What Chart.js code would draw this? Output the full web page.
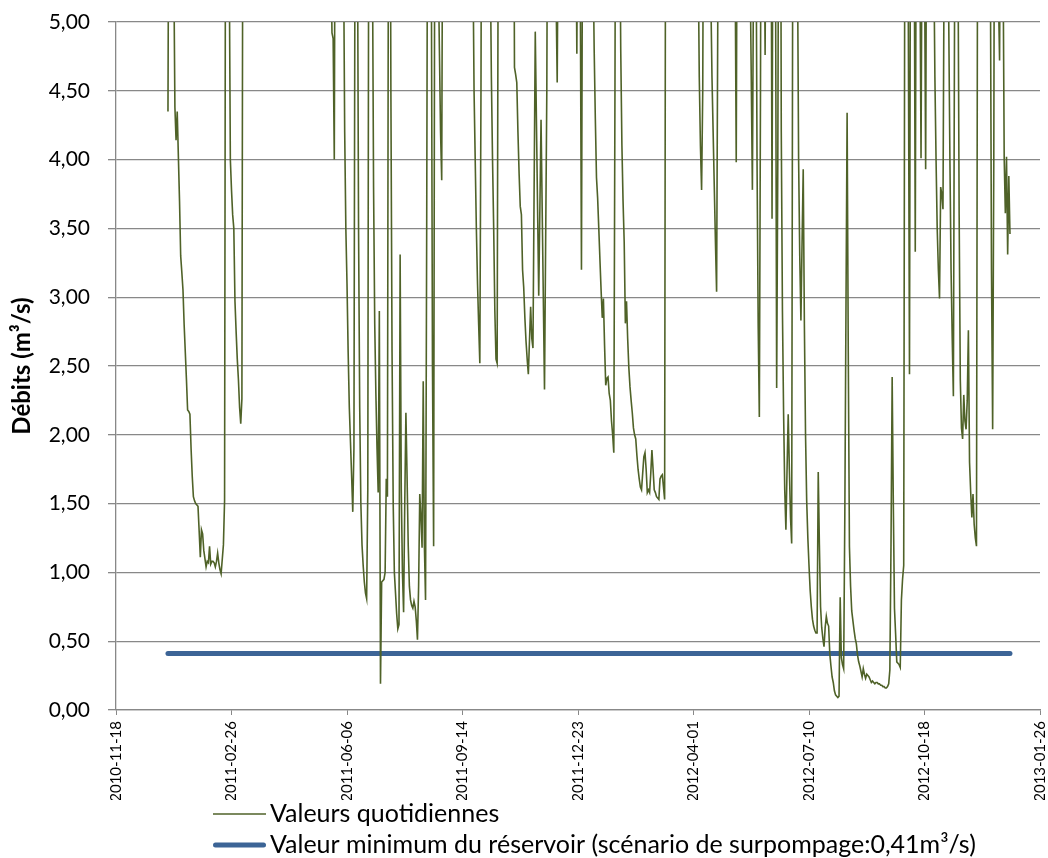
<!DOCTYPE html>
<html>
<head>
<meta charset="utf-8">
<script src="https://cdn.jsdelivr.net/npm/chart.js@4/dist/chart.umd.min.js"></script>
<style>
  body { margin: 0; background: #fff; }
  #wrap { width: 1048px; height: 858px; }
</style>
</head>
<body>
<div id="wrap"><canvas id="debits" width="1048" height="858"></canvas></div>
<script>
// jours comptés depuis le 2010-11-18 (origine de l'axe des x)
const startDate = '2010-11-18';
const xMaxDays = 800;
const xStepDays = 100;
const yMax = 5;
const yStep = 0.5;

const seriesLabels = [
    'Valeurs quotidiennes',
    'Valeur minimum du réservoir (scénario de surpompage:0,41m³/s)'
];
const reservoirMin = 0.41;

// débits journaliers (m3/s), >5 = hors cadre
const dayOffsets = [
    45, 46, 49, 51, 52, 53, 55, 56, 57, 58, 59, 60, 61, 62, 63, 64, 65, 66, 67, 68,
    69, 71, 72, 73, 74, 75, 76, 77, 78, 79, 80, 81, 82, 83, 84, 85, 86, 87, 88, 89,
    90, 91, 93, 94, 95,
    96, 97, 98, 99, 100, 101, 102, 103, 104, 105, 106, 107, 108, 109, 110, 140, 170,
    186, 187, 188, 189, 190,
    196, 197, 198, 199, 200, 201, 202, 203, 204, 205, 206, 207,
    208, 209, 210, 211, 212, 213, 214, 215, 216, 217, 218, 219,
    221, 222, 223, 224, 225, 226, 227, 228, 229, 230, 231, 232, 233, 234, 235, 236,
    237, 238, 239, 240, 241, 242, 243, 244, 245, 246, 247, 248, 249, 250, 251, 252, 253,
    254, 255, 256, 257, 258, 259, 260, 261, 262, 263, 264, 265, 266, 267, 268, 269, 270,
    272, 273, 274, 275, 276, 277, 278, 280, 281, 282, 283, 295,
    308, 309, 310, 311, 312, 313, 314, 315, 316, 317,
    323, 324, 325, 326, 327, 328, 329, 330, 331,
    344, 345, 346, 347, 348, 349, 350, 351, 352, 353, 354, 355, 356, 357, 359, 360, 361,
    363, 366, 368, 371, 373, 374,
    380, 381, 382, 383, 390,
    398, 399, 400, 401, 402, 403, 404,
    412, 413, 414, 415, 416, 417, 418, 419, 420, 421, 422, 423, 424, 425, 426, 427, 428,
    429, 430, 431, 432, 433,
    434, 436, 437, 438, 439, 440, 441, 442, 443, 444, 445, 446, 447, 448, 449, 450,
    451, 452, 453, 454, 455, 456, 457, 458, 459, 460, 461, 462, 463, 464, 465, 466,
    467, 468, 469, 470, 471, 472, 473, 474, 475, 476,
    490, 503, 504, 505, 506, 507, 508, 509,
    513, 514, 515, 516, 517, 518, 519, 520, 521, 522,
    535, 536, 537, 538,
    548, 549, 550, 551, 552, 553,
    554, 555, 556, 557, 558, 559,
    561, 562, 563, 567, 568, 569, 571, 572, 573, 574,
    575, 576, 577, 578, 579, 580, 581, 582, 583, 584, 585, 586,
    589, 590, 591, 592, 593, 594, 595, 596, 597, 598, 599, 600, 601, 602, 603, 604,
    605, 606, 607, 608, 609, 610, 611, 612, 613, 614, 615, 616, 617, 618, 619, 620,
    621, 622, 623, 624, 625, 626, 627, 628, 629, 630, 631, 632, 633, 634, 635, 636,
    637, 638, 639, 640, 641, 642, 643, 644, 645, 646, 647, 648, 649, 650, 651, 652,
    653, 654, 655, 656, 657, 658, 659, 660, 661, 662, 663, 664, 665, 666, 667, 668,
    669, 670, 671, 672, 673, 674, 675, 676, 677, 678, 679, 680, 681, 682, 683,
    685, 686, 687, 688, 691, 692, 693, 696, 697, 698, 700, 701, 702,
    707, 708, 709, 710, 711, 712, 713, 714, 715, 716, 717, 718,
    720, 721, 722, 723, 724, 725, 726, 727,
    728, 729, 730, 731, 732, 733, 734, 735, 736, 737, 738, 739, 740, 741, 742, 743,
    744, 745, 746,
    756, 757, 758, 759, 760, 761,
    763, 764, 765, 766,
    767, 768, 769, 770, 771, 772, 773, 774
];
const dailyFlow = [
    4.35, 7.0, 6.5, 4.38, 4.14, 4.35, 3.70, 3.30, 3.18, 3.05, 2.80, 2.60, 2.40, 2.18, 2.17, 2.15, 1.90, 1.70, 1.55, 1.52,
    1.50, 1.48, 1.30, 1.11, 1.31, 1.28, 1.16, 1.10, 1.04, 1.08, 1.07, 1.19, 1.06, 1.08, 1.08, 1.07, 1.04, 1.08, 1.14, 1.07,
    1.02, 0.99, 1.20, 1.52, 7.0,
    8.0, 7.0, 5.5, 4.00, 3.78, 3.60, 3.50, 2.97, 2.75, 2.55, 2.40, 2.20, 2.08, 2.26, 7.0, 9.0, 8.5,
    5.5, 4.92, 4.88, 4.00, 7.0,
    7.0, 5.5, 4.2, 3.50, 3.10, 2.60, 2.20, 1.95, 1.70, 1.44, 1.90, 6.0,
    9.0, 5.8, 3.5, 2.2, 1.50, 1.20, 1.05, 0.93, 0.85, 0.81, 1.6, 7.0,
    8.0, 5.5, 3.80, 2.81, 2.30, 1.90, 1.58, 2.90, 0.19, 0.93, 0.94, 0.95, 1.00, 1.68, 1.55, 6.5,
    7.5, 4.5, 2.6, 1.5, 1.0, 0.85, 0.70, 0.59, 0.62, 3.31, 1.60, 1.00, 0.71, 1.50, 2.16, 1.70, 1.20,
    0.90, 0.80, 0.76, 0.74, 0.79, 0.75, 0.65, 0.51, 0.90, 1.57, 1.40, 1.18, 2.39, 1.20, 0.80, 3.5, 7.0,
    8.0, 5.5, 2.5, 1.19, 6.0, 8.0, 6.0, 4.8, 4.2, 3.85, 6.5, 9.0,
    8.0, 5.5, 4.5, 4.0, 3.50, 3.10, 2.80, 2.52, 4.5, 8.0,
    8.0, 5.5, 4.6, 4.0, 3.5, 2.9, 2.55, 2.52, 6.0,
    7.0, 4.67, 4.62, 4.56, 4.20, 3.90, 3.66, 3.60, 3.20, 3.07, 2.85, 2.68, 2.55, 2.44, 2.93, 2.70, 2.63,
    4.93, 3.01, 4.29, 2.33, 4.5, 7.0,
    6.0, 5.2, 4.56, 6.0, 8.0,
    6.0, 4.77, 6.5, 7.0, 5.2, 3.20, 6.0,
    7.0, 5.5, 4.8, 4.3, 3.87, 3.72, 3.50, 3.27, 3.05, 2.85, 2.99, 2.65, 2.36, 2.41, 2.42, 2.30, 2.25,
    2.10, 2.00, 1.87, 4.5, 8.0,
    9.0, 6.0, 4.8, 4.11, 3.70, 3.40, 2.81, 2.97, 2.70, 2.49, 2.35, 2.25, 2.16, 2.05, 2.00, 1.97,
    1.85, 1.75, 1.68, 1.62, 1.60, 1.72, 1.84, 1.87, 1.75, 1.58, 1.60, 1.58, 1.72, 1.89, 1.75, 1.60,
    1.58, 1.55, 1.54, 1.53, 1.68, 1.70, 1.71, 1.62, 1.53, 7.0,
    10.0, 8.0, 5.5, 4.6, 4.1, 3.78, 4.5, 7.0,
    8.0, 6.0, 5.2, 4.6, 4.2, 3.8, 3.4, 3.04, 5.0, 8.0,
    7.0, 5.5, 3.98, 6.5,
    7.0, 5.4, 4.6, 3.78, 5.5, 8.0,
    6.0, 4.0, 2.8, 2.13, 4.5, 8.0,
    6.0, 4.76, 6.5, 6.5, 3.57, 7.0, 5.5, 2.34, 4.0, 7.0,
    8.0, 4.2, 2.9, 2.16, 1.60, 1.31, 1.75, 2.15, 1.75, 1.40, 1.21, 6.0,
    8.0, 5.5, 4.0, 3.3, 2.83, 3.40, 3.93, 2.8, 2.0, 1.52, 1.25, 1.05, 0.87, 0.75, 0.66, 0.61,
    0.58, 0.56, 0.56, 1.73, 1.20, 0.75, 0.60, 0.52, 0.46, 0.60, 0.68, 0.63, 0.61, 0.41, 0.32, 0.24,
    0.20, 0.14, 0.11, 0.10, 0.09, 0.10, 0.82, 0.38, 0.33, 0.30, 1.40, 2.90, 4.34, 2.60, 1.19, 0.90,
    0.72, 0.65, 0.58, 0.52, 0.48, 0.40, 0.35, 0.32, 0.28, 0.24, 0.30, 0.26, 0.23, 0.26, 0.25, 0.24,
    0.22, 0.20, 0.21, 0.20, 0.19, 0.20, 0.20, 0.19, 0.19, 0.18, 0.18, 0.17, 0.17, 0.16, 0.16, 0.17,
    0.19, 0.29, 1.20, 2.42, 1.50, 0.74, 0.55, 0.35, 0.34, 0.33, 0.31, 0.80, 0.95, 1.05, 6.0,
    7.0, 5.0, 2.44, 6.5, 6.0, 3.33, 6.5, 5.5, 4.01, 6.0, 5.5, 3.93, 6.5,
    7.0, 5.5, 4.6, 4.0, 3.5, 3.20, 2.99, 3.80, 3.75, 3.64, 5.5, 8.0,
    6.5, 5.0, 4.0, 3.2, 2.7, 2.28, 5.0, 8.0,
    7.0, 5.5, 3.6, 2.40, 2.05, 1.97, 2.29, 2.10, 2.04, 2.25, 2.76, 1.80, 1.58, 1.40, 1.57, 1.35,
    1.25, 1.19, 6.0,
    8.0, 5.5, 3.2, 2.04, 4.0, 8.0,
    6.0, 5.2, 4.72, 6.5,
    7.0, 5.5, 4.01, 3.61, 4.02, 3.31, 3.88, 3.46
];

if (dayOffsets.length !== dailyFlow.length) {
    console.error('longueurs différentes', dayOffsets.length, dailyFlow.length);
}

function dayToDate(d) {
    var t = Date.parse(startDate + 'T00:00:00Z') + d * 86400000;
    return new Date(t).toISOString().slice(0, 10);
}

var flowPoints = dayOffsets.map(function (d, i) { return { x: d, y: dailyFlow[i] }; });
var minPoints = [
    { x: dayOffsets[0], y: reservoirMin },
    { x: dayOffsets[dayOffsets.length - 1], y: reservoirMin }
];

var gridGrey = '#888888';
var fontFam = 'Lato, "Liberation Sans", sans-serif';

// legende empilee sous le graphique (comme Excel)
var stackedLegend = {
    id: 'stackedLegend',
    afterDraw: function (chart) {
        var ctx = chart.ctx;
        var x0 = 213, len = 53;
        chart.data.datasets.forEach(function (ds, i) {
            var y = chart.chartArea.bottom + 104 + i * 31;
            var inset = ds.borderCapStyle === 'round' ? ds.borderWidth / 2 : 0;
            ctx.save();
            ctx.strokeStyle = ds.borderColor;
            ctx.lineWidth = ds.borderWidth;
            ctx.lineCap = ds.borderCapStyle || 'butt';
            ctx.beginPath();
            ctx.moveTo(x0 + inset, y);
            ctx.lineTo(x0 + len - inset, y);
            ctx.stroke();
            ctx.fillStyle = '#000';
            ctx.font = '25px ' + fontFam;
            ctx.textBaseline = 'middle';
            ctx.fillText(ds.label, x0 + len + 4, y);
            ctx.restore();
        });
    }
};

var ctx = document.getElementById('debits').getContext('2d');
new Chart(ctx, {
    type: 'line',
    data: {
        datasets: [{
            label: seriesLabels[0],
            data: flowPoints,
            borderColor: '#4f6228',
            borderWidth: 1.6,
            pointRadius: 0,
            tension: 0,
            order: 1
        }, {
            label: seriesLabels[1],
            data: minPoints,
            borderColor: '#3c6496',
            borderWidth: 5,
            borderCapStyle: 'round',
            pointRadius: 0,
            order: 2
        }]
    },
    options: {
        responsive: false,
        animation: false,
        layout: { padding: { left: 0, top: 22, right: 8, bottom: 58 } },
        plugins: {
            legend: { display: false },
            tooltip: { enabled: false }
        },
        scales: {
            x: {
                type: 'linear',
                min: 0,
                max: xMaxDays,
                afterFit: function (scale) {
                    scale.height = 90;
                    scale.paddingLeft = 0;
                    scale.paddingRight = 0;
                },
                grid: { drawOnChartArea: false, drawTicks: true, tickLength: 5, color: gridGrey },
                border: { color: gridGrey, width: 1.3 },
                ticks: {
                    stepSize: xStepDays,
                    minRotation: 90,
                    maxRotation: 90,
                    padding: 6,
                    color: '#000',
                    font: { family: fontFam, size: 15 },
                    callback: function (v) { return dayToDate(v); }
                }
            },
            y: {
                min: 0,
                max: yMax,
                afterFit: function (scale) {
                    scale.width = 116;
                    scale.paddingTop = 0;
                    scale.paddingBottom = 0;
                },
                grid: { color: gridGrey, lineWidth: 1.3, tickLength: 8 },
                border: { color: gridGrey, width: 1.3 },
                title: {
                    display: true,
                    text: 'Débits (m³/s)',
                    color: '#000',
                    font: { family: fontFam, size: 24, weight: 'bold' },
                    padding: { top: 8, bottom: 0 }
                },
                ticks: {
                    stepSize: yStep,
                    padding: 18,
                    color: '#000',
                    font: { family: fontFam, size: 21 },
                    callback: function (v) { return v.toFixed(2).replace('.', ','); }
                }
            }
        }
    },
    plugins: [stackedLegend]
});
</script>
</body>
</html>
